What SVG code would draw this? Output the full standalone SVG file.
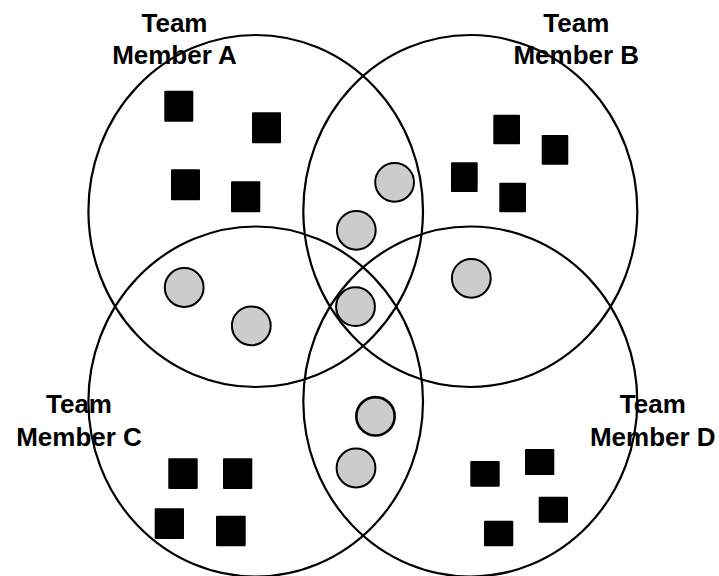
<svg xmlns="http://www.w3.org/2000/svg" width="719" height="576" viewBox="0 0 719 576">
<style>
.ring{fill:none;stroke:#000;stroke-width:2.2}
.sq{fill:#000;stroke:none}
.dot{fill:#cccccc;stroke:#000;stroke-width:2}
.lbl{font-family:"Liberation Sans",Arial,sans-serif;font-weight:bold;font-size:26px;fill:#000;text-anchor:middle}
</style>
<rect width="719" height="576" fill="#fff"/>
<g id="memberA">
<ellipse class="ring" cx="255.7" cy="211" rx="167.3" ry="176"/>
<rect class="sq" x="164.3" y="90.7" width="29" height="31" rx="1"/>
<rect class="sq" x="252" y="112.3" width="29" height="31" rx="1"/>
<rect class="sq" x="171" y="169.3" width="29" height="31" rx="1"/>
<rect class="sq" x="231" y="181.3" width="29.3" height="31" rx="1"/>
<text class="lbl" x="174.5" y="31.7">Team</text>
<text class="lbl" x="174.5" y="64">Member A</text>
</g>
<g id="memberB">
<ellipse class="ring" cx="470.3" cy="211" rx="167" ry="176"/>
<rect class="sq" x="493.3" y="114.7" width="26.7" height="29.6" rx="1"/>
<rect class="sq" x="541.7" y="135" width="26.6" height="29.7" rx="1"/>
<rect class="sq" x="451" y="162.3" width="26.7" height="29.7" rx="1"/>
<rect class="sq" x="499.3" y="182.7" width="26.7" height="29.6" rx="1"/>
<text class="lbl" x="576.3" y="31.7">Team</text>
<text class="lbl" x="576.3" y="64">Member B</text>
</g>
<g id="memberC">
<ellipse class="ring" cx="255.7" cy="401.5" rx="167.3" ry="175"/>
<rect class="sq" x="168.3" y="458.3" width="29.4" height="30.7" rx="1"/>
<rect class="sq" x="223" y="458.3" width="29.3" height="30.7" rx="1"/>
<rect class="sq" x="154.7" y="508.3" width="29.3" height="30.7" rx="1"/>
<rect class="sq" x="216" y="515.7" width="29.7" height="30.6" rx="1"/>
<text class="lbl" x="79" y="412.7">Team</text>
<text class="lbl" x="79" y="445.7">Member C</text>
</g>
<g id="memberD">
<ellipse class="ring" cx="470.3" cy="401.5" rx="167" ry="175"/>
<rect class="sq" x="470.3" y="461" width="29.4" height="25.7" rx="1"/>
<rect class="sq" x="525" y="449" width="29.3" height="26" rx="1"/>
<rect class="sq" x="538.7" y="496.7" width="29.3" height="26" rx="1"/>
<rect class="sq" x="484" y="520.7" width="29.3" height="25.6" rx="1"/>
<text class="lbl" x="652.8" y="412.7">Team</text>
<text class="lbl" x="652.8" y="445.7">Member D</text>
</g>
<g id="shared">
<circle class="dot" cx="394.6" cy="182.3" r="19.4"/>
<circle class="dot" cx="356.3" cy="230.3" r="19.4"/>
<circle class="dot" cx="184.2" cy="287.5" r="19.4"/>
<circle class="dot" cx="251.3" cy="325.8" r="19.4"/>
<circle class="dot" cx="355.5" cy="306.7" r="19.4"/>
<circle class="dot" cx="471.3" cy="278.3" r="19.4"/>
<circle class="dot" cx="375.5" cy="416.3" r="19.2" style="stroke-width:2.6"/>
<circle class="dot" cx="356" cy="468" r="19.4"/>
</g>
</svg>
